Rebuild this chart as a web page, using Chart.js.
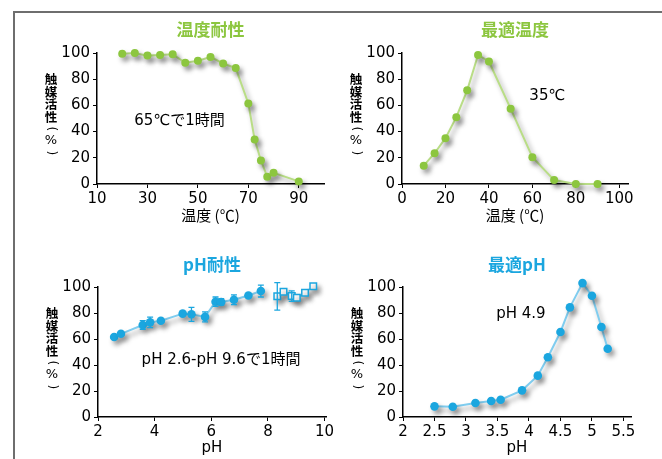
<!DOCTYPE html>
<html><head><meta charset="utf-8">
<script src="https://cdn.jsdelivr.net/npm/chart.js@4/dist/chart.umd.min.js"></script>
<style>
html,body{margin:0;padding:0;background:#fff;}
body{width:662px;height:459px;position:relative;overflow:hidden;}
#frame{position:absolute;left:13px;top:11px;right:-10px;bottom:-10px;border-top:2px solid #6e6e6e;border-left:2px solid #6e6e6e;}
canvas{position:absolute;}
</style></head><body>
<div id="frame"></div>
<canvas id="c1" width="331" height="230" style="left:0;top:0"></canvas>
<canvas id="c2" width="331" height="230" style="left:331px;top:0"></canvas>
<canvas id="c3" width="345" height="229" style="left:0;top:230px"></canvas>
<canvas id="c4" width="331" height="229" style="left:331px;top:230px"></canvas>
<script>
// ---- data ----
const tempTolX = [20,25,30,35,40,45,50,55,60,65,70,72.5,75,77.5,80,90];
const tempTolY = [99.5,100,98,98.5,99,92.5,94,97,92,88.5,61.5,34,18,5.5,8.5,2];
const optTempX = [10,15,20,25,30,35,40,50,60,70,80,90];
const optTempY = [14,23.5,35,51,71.5,98.5,93.5,57.5,20.5,3,0,0];
const phTolX = [2.57,2.81,3.58,3.84,4.22,4.99,5.3,5.78,6.15,6.35,6.8,7.31,7.75];
const phTolY = [61.5,64,70.8,72.8,74,79.5,79,77,88.7,88.5,90.2,93.5,96.9];
const phTolErr = [0,0,3.3,4,0,0,5.4,3.8,3.6,2.5,3.7,0,4.6];
const phTolOpenX = [8.33,8.55,8.84,9.02,9.31,9.6];
const phTolOpenY = [92.8,96.4,93,91.8,95.6,100.5];
const phTolOpenErr = [10.6,0,4,0,0,0];
const optPhX = [2.5,2.79,3.15,3.4,3.55,3.89,4.14,4.3,4.5,4.65,4.85,5.0,5.15,5.25];
const optPhY = [8.2,7.9,10.8,12.3,13.3,20.5,31.8,46,65.4,84.3,103,93.3,69.2,52.5];

const yTicks = [0,20,40,60,80,100];
const yTickLabels = ['0','20','40','60','80','100'];
const tempTolTicks = [10,30,50,70,90];
const tempTolTickLabels = ['10','30','50','70','90'];
const optTempTicks = [0,20,40,60,80,100];
const optTempTickLabels = ['0','20','40','60','80','100'];
const phTolTicks = [2,4,6,8,10];
const phTolTickLabels = ['2','4','6','8','10'];
const optPhTicks = [2,2.5,3,3.5,4,4.5,5,5.5];
const optPhTickLabels = ['2','2.5','3','3.5','4','4.5','5','5.5'];

const titles = ['温度耐性','最適温度','pH耐性','最適pH'];
const xTitles = ['温度 (℃)','温度 (℃)','pH','pH'];
const notes = ['65℃で1時間','35℃','pH 2.6-pH 9.6で1時間','pH 4.9'];
const yTitleChars = ['触','媒','活','性','(','%',')'];

// ---- style ----
const GREEN='#8cc63f', GREEN_LINE='#b9dd86', BLUE='#1ba6df', BLUE_LINE='#80cdef';
const LAT='"DejaVu Sans", sans-serif';
const JP='"Noto Sans CJK JP", sans-serif';
const MIX='"DejaVu Sans", "Noto Sans CJK JP", sans-serif';

function pts(xs, ys){ return xs.map((x,i)=>({x:x, y:ys[i]})); }

function panel(id, cfg){
  const cv = document.getElementById(id);
  const W = cv.width, H = cv.height, A = cfg.area;
  const extras = {
    id:'extras',
    beforeDatasetsDraw(chart){
      const c = chart.ctx; c.save();
      c.shadowColor='rgba(0,0,0,0.38)'; c.shadowBlur=5; c.shadowOffsetX=3; c.shadowOffsetY=4;
    },
    afterDatasetsDraw(chart){
      const c = chart.ctx; c.restore();
      const xs = chart.scales.x, ys = chart.scales.y;
      chart.data.datasets.forEach(ds=>{
        if(!ds.err) return;
        c.save(); c.strokeStyle = ds.pointBorderColor || ds.pointBackgroundColor; c.lineWidth = 1.3;
        ds.data.forEach((p,i)=>{
          const e = ds.err[i]; if(!e) return;
          const px = xs.getPixelForValue(p.x), y1 = ys.getPixelForValue(p.y+e), y2 = ys.getPixelForValue(p.y-e);
          c.beginPath(); c.moveTo(px,y1); c.lineTo(px,y2);
          c.moveTo(px-3,y1); c.lineTo(px+3,y1); c.moveTo(px-3,y2); c.lineTo(px+3,y2); c.stroke();
        });
        c.restore();
      });
    },
    afterDraw(chart){
      const c = chart.ctx, ca = chart.chartArea, xs = chart.scales.x, ys = chart.scales.y;
      c.save();
      // title
      c.fillStyle = cfg.color; c.font = 'bold 17px '+JP; c.textAlign='center'; c.textBaseline='middle';
      c.fillText(cfg.title, (ca.left+ca.right)/2, ca.top - cfg.titleOff);
      // x title
      c.fillStyle = '#000'; c.font = cfg.xTitleFont;
      c.fillText(cfg.xTitle, (ca.left+ca.right)/2, ca.bottom + 31);
      // y title (vertical)
      const offs = [26,38.8,51.6,64.4,75.8,87.6,99.8];
      const cx = ca.left - 46;
      yTitleChars.forEach((ch,i)=>{
        const cy = ca.top + offs[i];
        if(ch==='('||ch===')'){
          c.save(); c.translate(cx, cy); c.rotate(Math.PI/2);
          c.font = '12px '+LAT; c.fillText(ch, 0, 0); c.restore();
        } else if(ch==='%'){
          c.font = '13px '+LAT; c.fillText(ch, cx, cy);
        } else {
          c.font = 'bold 12.5px '+JP; c.fillText(ch, cx, cy);
        }
      });
      // note
      c.textAlign='left'; c.font = '15px '+MIX;
      c.fillText(cfg.note, xs.getPixelForValue(cfg.notePos[0]), ys.getPixelForValue(cfg.notePos[1]));
      c.restore();
    }
  };
  const tickFont = {family: LAT, size: 15};
  new Chart(cv, {
    type:'scatter',
    data:{datasets: cfg.datasets},
    options:{
      responsive:false, animation:false, events:[],
      layout:{padding:{left:0, top:A.top, right:W-A.right, bottom:0}},
      plugins:{legend:{display:false}, tooltip:{enabled:false}},
      scales:{
        x:{type:'linear', min:cfg.xMin, max:cfg.xMax,
          afterBuildTicks: s=>{ s.ticks = cfg.xTicks.map(v=>({value:v})); },
          afterFit: s=>{ s.height = H - A.bottom; },
          ticks:{font:tickFont, color:'#000', padding:2, autoSkip:false, maxRotation:0,
            callback: v => cfg.xLabels[cfg.xTicks.indexOf(v)]},
          grid:{drawOnChartArea:false, drawTicks:true, tickLength:4, color:'#000', lineWidth:1},
          border:{display:true, color:'#000', width:1.5}
        },
        y:{type:'linear', min:0, max:100,
          afterBuildTicks: s=>{ s.ticks = yTicks.map(v=>({value:v})); },
          afterFit: s=>{ s.width = A.left; },
          ticks:{font:tickFont, color:'#000', padding:3, autoSkip:false,
            callback: v => yTickLabels[yTicks.indexOf(v)]},
          grid:{drawOnChartArea:false, drawTicks:true, tickLength:4, color:'#000', lineWidth:1},
          border:{display:true, color:'#000', width:1.5}
        }
      }
    },
    plugins:[extras]
  });
}

function lineDs(xs, ys, col, lineCol, r){
  return {data:pts(xs,ys), showLine:true, borderColor:lineCol, borderWidth:2,
    pointBackgroundColor:col, pointBorderColor:col, pointBorderWidth:0, pointRadius:r, clip:false};
}

panel('c1', {area:{left:97,right:324,top:53,bottom:184}, xMin:10, xMax:100,
  xTicks:tempTolTicks, xLabels:tempTolTickLabels, color:GREEN, title:titles[0], titleOff:23,
  xTitle:xTitles[0], xTitleFont:'15px '+JP, note:notes[0], notePos:[24.8,48],
  datasets:[lineDs(tempTolX,tempTolY,GREEN,GREEN_LINE,4)]});

panel('c2', {area:{left:71,right:297,top:53,bottom:184}, xMin:0, xMax:104,
  xTicks:optTempTicks, xLabels:optTempTickLabels, color:GREEN, title:titles[1], titleOff:23,
  xTitle:xTitles[1], xTitleFont:'15px '+JP, note:notes[1], notePos:[58.6,67],
  datasets:[lineDs(optTempX,optTempY,GREEN,GREEN_LINE,4)]});

const dsFilled = lineDs(phTolX,phTolY,BLUE,BLUE_LINE,4.3); dsFilled.err = phTolErr;
const dsOpen = {data:pts(phTolOpenX,phTolOpenY), showLine:true, borderColor:BLUE_LINE, borderWidth:1.5,
  pointStyle:'rect', pointBackgroundColor:'#fff', pointBorderColor:BLUE, pointBorderWidth:1.5, pointRadius:4.6, clip:false, err:phTolOpenErr};
panel('c3', {area:{left:98,right:326,top:57,bottom:187}, xMin:2, xMax:10.05,
  xTicks:phTolTicks, xLabels:phTolTickLabels, color:BLUE, title:titles[2], titleOff:22,
  xTitle:xTitles[2], xTitleFont:'15px '+LAT, note:notes[2], notePos:[3.54,44],
  datasets:[dsFilled, dsOpen]});

panel('c4', {area:{left:72,right:300,top:57,bottom:187}, xMin:2, xMax:5.62,
  xTicks:optPhTicks, xLabels:optPhTickLabels, color:BLUE, title:titles[3], titleOff:22,
  xTitle:xTitles[3], xTitleFont:'15px '+LAT, note:notes[3], notePos:[3.48,79.5],
  datasets:[lineDs(optPhX,optPhY,BLUE,BLUE_LINE,4.3)]});
</script>
</body></html>
